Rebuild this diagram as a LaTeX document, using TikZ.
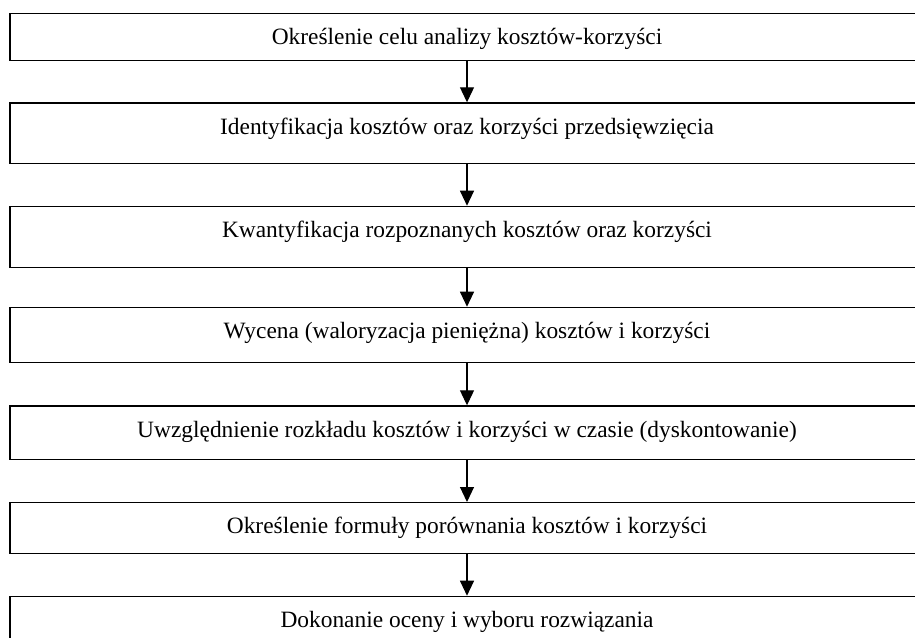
\documentclass[tikz,border=0pt]{standalone}
\usepackage{fontspec}
\setmainfont{Liberation Serif}
\usetikzlibrary{arrows.meta}
\begin{document}
\begin{tikzpicture}[x=1pt,y=-1pt,
  stepbox/.style={draw=black, line width=1.4pt, fill=white, inner sep=0pt,
    minimum width=914pt, anchor=north, text height=31pt,
    font=\fontsize{23.4}{28}\selectfont},
  flow/.style={line width=1.1pt, -{Triangle[width=14pt,length=15pt]}}]
\useasboundingbox (0,0) rectangle (915,637);
\node[stepbox, text depth=16.3pt] (b1) at (467,12.7) {Określenie celu analizy kosztów-korzyści};
\node[stepbox, text depth=29.4pt] (b2) at (467,102.3) {Identyfikacja kosztów oraz korzyści przedsięwzięcia};
\node[stepbox, text depth=30pt] (b3) at (467,205.7) {Kwantyfikacja rozpoznanych kosztów oraz korzyści};
\node[stepbox, text depth=24.3pt] (b4) at (467,306.7) {Wycena (waloryzacja pieniężna) kosztów i korzyści};
\node[stepbox, text depth=22.7pt] (b5) at (467,405.3) {Uwzględnienie rozkładu kosztów i korzyści w czasie (dyskontowanie)};
\node[stepbox, text depth=19.7pt] (b6) at (467,502) {Określenie formuły porównania kosztów i korzyści};
\node[stepbox, text depth=24pt] (b7) at (467,595.7) {Dokonanie oceny i wyboru rozwiązania};
\draw[flow] (b1.south) -- (b2.north);
\draw[flow] (b2.south) -- (b3.north);
\draw[flow] (b3.south) -- (b4.north);
\draw[flow] (b4.south) -- (b5.north);
\draw[flow] (b5.south) -- (b6.north);
\draw[flow] (b6.south) -- (b7.north);
\end{tikzpicture}
\end{document}
